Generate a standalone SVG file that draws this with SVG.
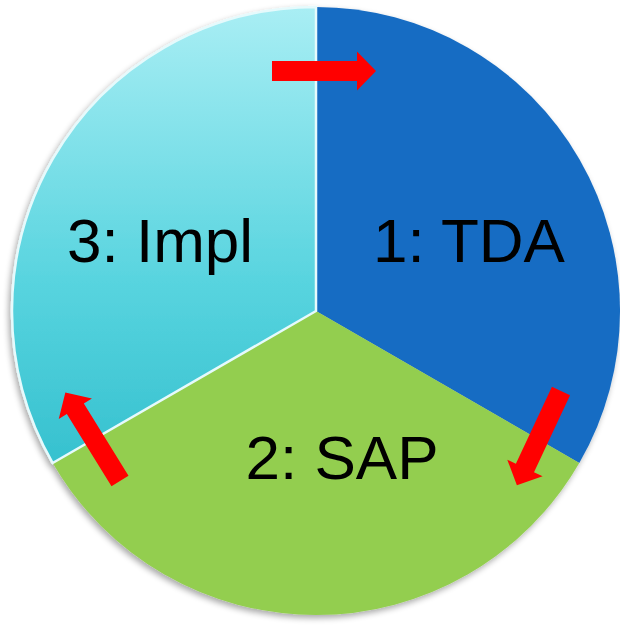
<svg xmlns="http://www.w3.org/2000/svg" width="620" height="628" viewBox="0 0 620 628">
  <defs>
    <linearGradient id="implFill" x1="0" y1="7" x2="0" y2="463" gradientUnits="userSpaceOnUse">
      <stop offset="0" stop-color="#A9EEF4"/>
      <stop offset="0.6" stop-color="#58D4DF"/>
      <stop offset="1" stop-color="#36C1CF"/>
    </linearGradient>
    <filter id="shadow" x="-10%" y="-10%" width="120%" height="120%">
      <feGaussianBlur in="SourceAlpha" stdDeviation="3"/>
      <feOffset dx="-2" dy="3" result="b"/>
      <feComponentTransfer><feFuncA type="linear" slope="0.35"/></feComponentTransfer>
      <feMerge><feMergeNode/><feMergeNode in="SourceGraphic"/></feMerge>
    </filter>
    <polygon id="arrow" points="0,-10 85,-10 85,-19.5 104,0 85,19.5 85,10 0,10"/>
  </defs>
  <style>
    .label { font-family: "Liberation Sans", Arial, sans-serif; font-size: 62px; fill: #000; text-anchor: middle; }
    .arrow { fill: #FF0000; }
  </style>

  <g filter="url(#shadow)">
    <g id="tda">
      <path d="M316,311 L316,7 A304,304 0 0 1 579.3,463 Z" fill="#176CC3"/>
      <text class="label" x="469" y="262">1: TDA</text>
    </g>
    <g id="sap">
      <path d="M316,311 L579.3,463 A304,304 0 0 1 52.7,463 Z" fill="#93CE50"/>
      <text class="label" x="342" y="479">2: SAP</text>
    </g>
    <g id="impl">
      <path d="M316,311 L52.7,463 A304,304 0 0 1 316,7 Z" fill="url(#implFill)" stroke="#E6FAFC" stroke-width="2.5" stroke-linejoin="round"/>
      <text class="label" x="160" y="262">3: Impl</text>
    </g>
  </g>

  <g id="connectors">
    <use href="#arrow" class="arrow" transform="translate(272,71)"/>
    <use href="#arrow" class="arrow" transform="translate(561,391) rotate(115.1)"/>
    <use href="#arrow" class="arrow" transform="translate(120,481) rotate(-121.7)"/>
  </g>
</svg>
